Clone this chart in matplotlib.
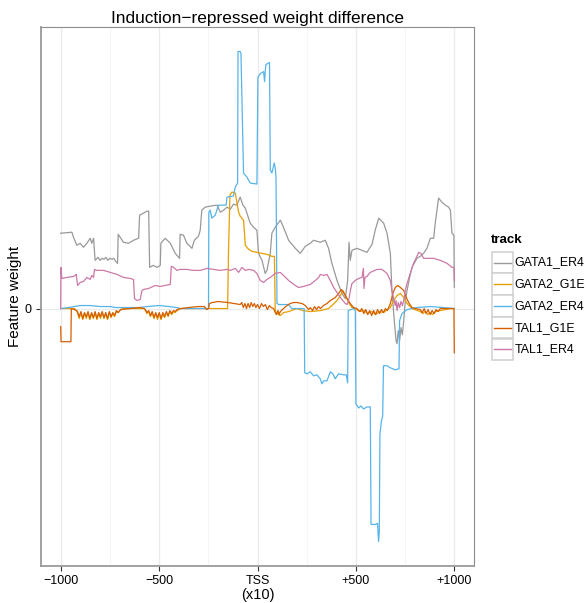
import matplotlib
matplotlib.use("Agg")
import matplotlib.pyplot as plt
from matplotlib.patches import Rectangle
from matplotlib.lines import Line2D

plt.rcParams['font.family'] = ['Liberation Sans', 'DejaVu Sans']

# (position, weight x100)
gata1_er4 = [(-1000, 75), (-943, 76), (-935, 71), (-918, 63), (-901, 65), (-884, 61), (-867, 65),
             (-850, 70), (-842, 65), (-833, 70), (-825, 48), (-820, 49), (-810, 51), (-800, 48),
             (-790, 50), (-780, 49), (-770, 51), (-760, 48), (-750, 50), (-740, 49), (-730, 50),
             (-720, 47), (-711, 45), (-708, 74), (-681, 66), (-655, 65), (-630, 68), (-604, 70),
             (-599, 93), (-579, 95), (-562, 97), (-553, 97), (-548, 41), (-530, 43), (-510, 41),
             (-494, 43), (-491, 65), (-469, 70), (-443, 65), (-418, 55), (-396, 50), (-393, 74),
             (-376, 73), (-359, 65), (-333, 60), (-321, 68), (-300, 72), (-291, 78), (-283, 98),
             (-266, 101), (-240, 102), (-206, 103), (-189, 96), (-172, 98), (-155, 101), (-138, 99),
             (-122, 104), (-105, 103), (-88, 111), (-74, 103), (-62, 100), (-45, 90), (-37, 85),
             (-20, 81), (-3, 78), (5, 55), (23, 48), (39, 35), (48, 38), (65, 55), (73, 75),
             (90, 81), (116, 88), (132, 81), (158, 68), (192, 60), (217, 55), (243, 62), (268, 65),
             (285, 68), (319, 66), (344, 68), (361, 60), (378, 45), (404, 28), (429, 15), (446, 10),
             (458, 28), (465, 66), (471, 48), (480, 58), (505, 60), (531, 58), (556, 56), (582, 64),
             (598, 78), (616, 90), (641, 85), (658, 75), (675, 55), (683, 18), (695, -12), (704, -32),
             (709, -35), (715, -22), (722, -32), (729, -19), (736, -26), (743, -12), (751, 8),
             (760, 18), (773, 31), (785, 41), (793, 44), (810, 50), (827, 52), (844, 55), (861, 60),
             (878, 70), (895, 70), (903, 85), (920, 110), (937, 106), (954, 103), (971, 101),
             (980, 98), (988, 75), (998, 73), (1000, 21)]

gata2_g1e = [(-1000, 0), (-930, 0), (-918, -3), (-915, -4), (-906, -10), (-897, -4), (-888, -11),
             (-879, -5), (-870, -10), (-861, -4), (-852, -11), (-843, -5), (-834, -10), (-825, -4),
             (-816, -11), (-807, -5), (-798, -10), (-789, -4), (-780, -10), (-771, -5), (-762, -11),
             (-753, -4), (-744, -9), (-735, -5), (-726, -8), (-717, -3), (-708, -4), (-695, -1),
             (-680, 0), (-575, 0), (-570, -2), (-562, -5), (-553, -3), (-544, -8), (-535, -4),
             (-526, -10), (-517, -5), (-508, -11), (-499, -5), (-490, -11), (-481, -5), (-472, -9),
             (-463, -4), (-454, -8), (-445, -3), (-436, -6), (-427, -3), (-418, -4), (-409, -2),
             (-390, 0), (-152, 0), (-147, 60), (-140, 113), (-130, 116), (-113, 115), (-105, 106),
             (-96, 96), (-88, 92), (-71, 88), (-66, 75), (-62, 63), (-50, 60), (-30, 57), (-3, 56),
             (20, 55), (48, 54), (73, 52), (86, 52), (90, -2), (99, -5), (116, -7), (132, -4),
             (158, -3), (200, 0), (230, -2), (268, -3), (320, -2), (361, 0), (378, 3), (404, 8),
             (421, 13), (434, 18), (446, 13), (463, 6), (480, 1), (497, 0), (520, -3), (540, -2),
             (560, -5), (580, -3), (600, -6), (620, -3), (641, -4), (660, -1), (675, 1), (692, 8),
             (709, 13), (726, 15), (743, 11), (760, 5), (785, 0), (827, -3), (840, -5), (850, -3),
             (865, -6), (878, -4), (890, -6), (905, -3), (929, -2), (980, 0), (1000, 0)]

gata2_er4 = [(-1000, 0), (-960, 1), (-930, 2), (-900, 3), (-850, 3), (-800, 2), (-750, 2),
             (-720, 1), (-650, 1), (-600, 1), (-560, 2), (-500, 3), (-450, 2), (-410, 1), (-390, 0),
             (-249, 0), (-247, 96), (-240, 98), (-232, 90), (-215, 93), (-198, 103), (-159, 103),
             (-155, 111), (-122, 112), (-113, 121), (-101, 125), (-99, 256), (-88, 256), (-84, 254),
             (-71, 135), (-54, 131), (-37, 125), (-3, 124), (2, 230), (14, 234), (31, 236), (36, 226),
             (40, 238), (43, 243), (61, 245), (65, 138), (73, 135), (85, 145), (90, 140), (94, 131),
             (99, 5), (108, 4), (158, 4), (166, 2), (175, 0), (237, 0), (240, -64), (251, -65),
             (268, -63), (285, -67), (302, -66), (319, -70), (327, -75), (336, -72), (353, -72),
             (370, -63), (383, -65), (395, -70), (412, -65), (437, -66), (451, -66), (458, -74),
             (461, -2), (488, 0), (497, -2), (500, -95), (514, -99), (526, -97), (539, -100),
             (556, -98), (573, -98), (577, -215), (598, -215), (610, -214), (615, -232), (619, -222),
             (622, -125), (629, -113), (636, -107), (640, -57), (658, -57), (675, -59), (700, -61),
             (719, -60), (722, -12), (734, -5), (760, -1), (810, 1), (878, 2), (946, 1), (1000, 0)]

tal1_g1e = [(-1000, -18), (-998, -33), (-948, -33), (-946, 0), (-930, -1), (-918, -2), (-915, -3),
            (-906, -8), (-897, -3), (-888, -10), (-879, -4), (-870, -8), (-861, -3), (-852, -10),
            (-843, -4), (-834, -9), (-825, -3), (-816, -10), (-807, -4), (-798, -8), (-789, -3),
            (-780, -9), (-771, -4), (-762, -10), (-753, -3), (-744, -8), (-735, -4), (-726, -7),
            (-717, -2), (-708, -4), (-695, -1), (-650, 0), (-600, 1), (-575, 0), (-570, -1),
            (-562, -4), (-553, -2), (-544, -7), (-535, -3), (-526, -9), (-517, -4), (-508, -9),
            (-499, -4), (-490, -10), (-481, -4), (-472, -8), (-463, -3), (-454, -7), (-445, -2),
            (-436, -5), (-427, -2), (-418, -3), (-409, -1), (-390, 0), (-350, 1), (-300, 2),
            (-270, 2), (-258, -1), (-249, 0), (-244, 5), (-230, 6), (-200, 7), (-150, 6), (-120, 5),
            (-88, 4), (-80, 6), (-72, 1), (-64, 5), (-56, 0), (-48, 5), (-40, 1), (-32, 6), (-24, 2),
            (-16, 5), (-8, 1), (0, 4), (10, 0), (20, 5), (30, 2), (40, 4), (50, -1), (60, 3), (70, 1),
            (82, 0), (90, -4), (96, -6), (104, -2), (110, -6), (116, -3), (132, 0), (150, 3),
            (166, 5), (183, 6), (200, 6), (226, 5), (243, 3), (251, 1), (260, -1), (268, 1),
            (280, -2), (290, 2), (300, -1), (310, 2), (320, 0), (335, 3), (353, 5), (370, 8),
            (395, 11), (412, 15), (426, 19), (437, 16), (455, 10), (471, 5), (488, 1), (505, 0),
            (520, -3), (530, 0), (540, -5), (550, -1), (560, -6), (570, -2), (580, -7), (590, -2),
            (600, -6), (610, -1), (620, -5), (630, -1), (640, -4), (650, 0), (660, -2), (675, 5),
            (688, 15), (700, 21), (712, 23), (726, 21), (743, 18), (756, 11), (768, 6), (785, 1),
            (802, 0), (827, -1), (837, -4), (847, 0), (857, -5), (867, -1), (877, -6), (887, -2),
            (897, -5), (907, -1), (917, -3), (929, 0), (988, 0), (998, 0), (1000, -44)]

tal1_er4 = [(-1000, 0), (-999, 41), (-994, 30), (-969, 31), (-935, 32), (-926, 33), (-921, 34),
            (-914, 23), (-901, 26), (-884, 27), (-867, 31), (-850, 29), (-842, 33), (-833, 31),
            (-828, 39), (-816, 38), (-782, 38), (-748, 36), (-714, 34), (-681, 31), (-647, 30),
            (-630, 29), (-625, 10), (-613, 8), (-596, 9), (-587, 18), (-579, 19), (-553, 20),
            (-520, 23), (-494, 22), (-469, 23), (-443, 24), (-438, 42), (-426, 41), (-409, 38),
            (-393, 39), (-359, 39), (-325, 38), (-291, 38), (-257, 40), (-223, 39), (-189, 38),
            (-155, 39), (-138, 38), (-113, 40), (-96, 36), (-79, 41), (-62, 38), (-45, 39), (-20, 38),
            (-3, 35), (14, 28), (31, 26), (48, 29), (65, 31), (90, 35), (116, 36), (132, 33),
            (158, 28), (192, 23), (209, 21), (234, 22), (268, 24), (294, 28), (311, 31), (319, 34),
            (336, 33), (353, 34), (370, 28), (387, 21), (404, 16), (421, 11), (446, 5), (455, 4),
            (463, 8), (472, 18), (480, 25), (497, 28), (514, 30), (531, 31), (538, 40), (541, 20),
            (546, 31), (556, 32), (573, 36), (607, 39), (632, 39), (658, 35), (675, 28), (683, 18),
            (692, 10), (700, 3), (704, 8), (709, -2), (715, 6), (722, 1), (729, 7), (736, 3),
            (743, 8), (751, 18), (760, 25), (776, 35), (793, 45), (810, 52), (819, 56), (830, 55),
            (844, 50), (861, 50), (895, 50), (929, 48), (963, 45), (988, 41), (998, 41), (1000, 28)]

tracks = ["GATA1_ER4", "GATA2_G1E", "GATA2_ER4", "TAL1_G1E", "TAL1_ER4"]
series = [gata1_er4, gata2_g1e, gata2_er4, tal1_g1e, tal1_er4]
colors = ["#999999", "#E69F00", "#56B4E9", "#D55E00", "#CC79A7"]

x_breaks = [-1000, -500, 0, 500, 1000]
x_labels = ["\u22121000", "\u2212500", "TSS", "+500", "+1000"]
x_minor = [-750, -250, 250, 750]

W, H = 587, 603
fig = plt.figure(figsize=(W / 100, H / 100), dpi=100)
ax = fig.add_axes([41 / W, 1 - 566 / H, (474 - 41) / W, (566 - 27) / H])

for name, pts, col in zip(tracks, series, colors):
    xs = [p[0] for p in pts]
    ys = [p[1] / 100 for p in pts]
    ax.plot(xs, ys, color=col, lw=0.9, label=name, zorder=3)

ax.margins(x=0.05, y=0.05)
ax.set_xticks(x_breaks)
ax.set_xticklabels(x_labels)
ax.set_xticks(x_minor, minor=True)
ax.set_yticks([0])
ax.set_yticklabels(["0"])

for v in x_breaks:
    ax.axvline(v, color="#EBEBEB", lw=0.9, zorder=1)
for v in x_minor:
    ax.axvline(v, color="#F2F2F2", lw=0.5, zorder=1)
ax.axhline(0, color="#EBEBEB", lw=0.9, zorder=1)

for s in ["top", "right"]:
    ax.spines[s].set_color("#8C8C8C")
    ax.spines[s].set_linewidth(0.8)
for s in ["left", "bottom"]:
    ax.spines[s].set_color("#9A9A9A")
    ax.spines[s].set_linewidth(1.3)

ax.tick_params(axis="both", which="major", length=3.5, width=0.8, color="#333333",
               labelsize=9, labelcolor="black", pad=3)
ax.tick_params(axis="x", which="minor", length=0)

ax.set_title("Induction\u2212repressed weight difference", fontsize=12.4, pad=3)
ax.set_xlabel("(x10)", fontsize=10.5)
ax.xaxis.set_label_coords(0.5, -0.041)
ax.set_ylabel("Feature weight", fontsize=11)
ax.yaxis.set_label_coords(-0.045, 0.5)

# legend drawn by hand so each key gets its own box
def fx(px):
    return px / W

def fy(py):
    return 1 - py / H

fig.text(fx(491), fy(240), "track", fontsize=9.5, fontweight="bold", va="center", ha="left")
key = 21.7
for i, (name, col) in enumerate(zip(tracks, colors)):
    top = 251.7 + i * key
    fig.add_artist(Rectangle((fx(491.7), fy(top + key)), key / W, key / H,
                             transform=fig.transFigure, facecolor="white",
                             edgecolor="#D0D0D0", lw=1.1))
    yc = fy(top + key / 2)
    fig.add_artist(Line2D([fx(494), fx(511)], [yc, yc], color=col, lw=1.0,
                          transform=fig.transFigure))
    fig.text(fx(514.5), yc, name, fontsize=8.9, va="center", ha="left")

fig.savefig("out.png", dpi=100)
